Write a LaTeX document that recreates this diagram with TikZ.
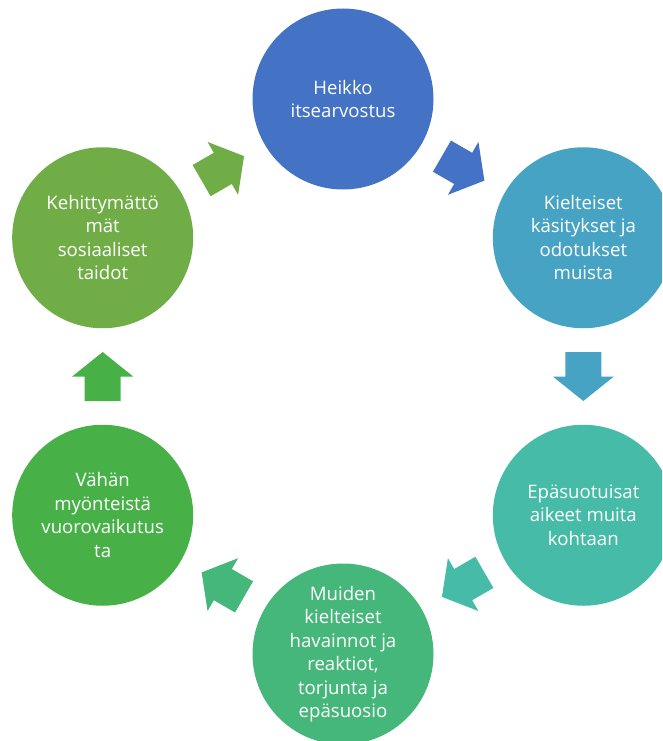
\documentclass[tikz,border=0pt]{standalone}
\usepackage{fontspec}
\setmainfont{Open Sans}
\usetikzlibrary{calc}
\definecolor{cA}{HTML}{4472C4}
\definecolor{cB}{HTML}{47A3C4}
\definecolor{cC}{HTML}{45BBA8}
\definecolor{cD}{HTML}{45B77A}
\definecolor{cE}{HTML}{47B148}
\definecolor{cF}{HTML}{70AD47}
\tikzset{
  bubble/.style={circle, minimum size=181pt, inner sep=0pt, text=white, align=center,
    font=\fontsize{18.6}{23.5}\selectfont},
  blockarrow/.pic={
    \fill[#1] (-24.5,-18) -- (0,-18) -- (0,-30.5) -- (24.5,0) -- (0,30.5) -- (0,18) -- (-24.5,18) -- cycle;
  }
}
\begin{document}
\begin{tikzpicture}[x=1pt,y=1pt]
\useasboundingbox (0,0) rectangle (662,-741);
\clip (0,0) rectangle (662,-741);
\coordinate (c) at (343,-376.5);
\node[bubble, fill=cA] (n1) at ($(c)+(90:277.5)$) {Heikko\\itsearvostus};
\node[bubble, fill=cB] (n2) at ($(c)+(30:277.5)$) {Kielteiset\\käsitykset ja\\odotukset\\muista};
\node[bubble, fill=cC] (n3) at ($(c)+(-30:277.5)$) {Epäsuotuisat\\aikeet muita\\kohtaan};
\node[bubble, fill=cD] (n4) at ($(c)+(-90:277.5)$) {Muiden\\kielteiset\\havainnot ja\\reaktiot,\\torjunta ja\\epäsuosio};
\node[bubble, fill=cE] (n5) at ($(c)+(-150:277.5)$) {Vähän\\myönteistä\\vuorovaikutus\\ta};
\node[bubble, fill=cF] (n6) at ($(c)+(150:277.5)$) {Kehittymättö\\mät\\sosiaaliset\\taidot};
\pic[rotate=-30] at ($(n1)!0.5!(n2)$) {blockarrow=cA};
\pic[rotate=-90] at ($(n2)!0.5!(n3)$) {blockarrow=cB};
\pic[rotate=-150] at ($(n3)!0.5!(n4)$) {blockarrow=cC};
\pic[rotate=150] at ($(n4)!0.5!(n5)$) {blockarrow=cD};
\pic[rotate=90] at ($(n5)!0.5!(n6)$) {blockarrow=cE};
\pic[rotate=30] at ($(n6)!0.5!(n1)$) {blockarrow=cF};
\end{tikzpicture}
\end{document}
